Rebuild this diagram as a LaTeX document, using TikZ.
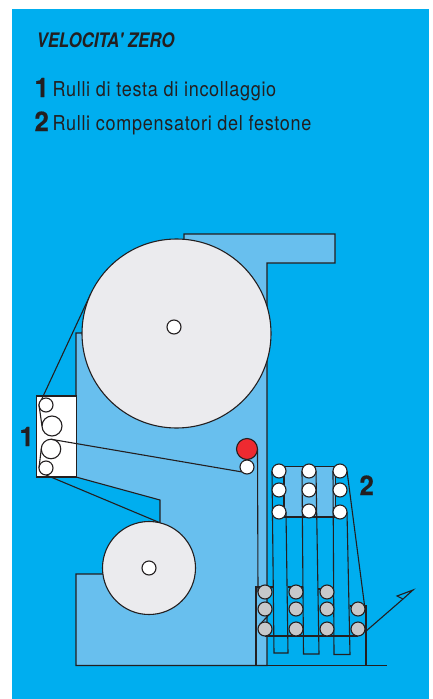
\documentclass[tikz,border=0pt]{standalone}
\usepackage{fontspec}
\usepackage{xcolor}
\usetikzlibrary{backgrounds}
\setmainfont[FakeStretch=0.88,LetterSpace=3.4]{TeX Gyre Heros}
\newfontfamily\headfont[FakeStretch=0.84]{TeX Gyre Heros}
\newfontfamily\numfont[FakeStretch=0.95,FakeBold=0.6]{TeX Gyre Heros}
\definecolor{skybg}{HTML}{00AEEF}
\definecolor{bodyblue}{HTML}{68BFEE}
\definecolor{drumgrey}{HTML}{EBEBEE}
\definecolor{rollgrey}{HTML}{C7C8CA}
\definecolor{rollred}{HTML}{EE2A30}
\definecolor{inkline}{HTML}{231F20}

\begin{document}
\begin{tikzpicture}[x=1pt, y=-1pt, line width=1.1pt, draw=inkline, text=inkline,
  roller/.style={circle, draw, fill=white, inner sep=0pt, outer sep=0pt, minimum size=#1},
  roller/.default=14pt,
  lowroller/.style={roller, fill=rollgrey},
  title/.style={anchor=base west, inner sep=0pt, font=\headfont\fontsize{20}{20}\selectfont\bfseries\itshape},
  caption/.style={anchor=base west, inner sep=0pt, font=\fontsize{20.5}{20}\selectfont},
  number/.style={anchor=base west, inner sep=0pt, font=\numfont\fontsize{27}{27}\selectfont\bfseries}]
\useasboundingbox (0,0) rectangle (433,699);
\node[title] (heading) at (36,47) {VELOCITA' ZERO};
\node[number] (numa) at (34,97) {1};
\node[caption] (capa) at (52,96) {Rulli di testa di incollaggio};
\node[number] (numb) at (34,131) {2};
\node[caption] (capb) at (52,130) {Rulli compensatori del festone};
\node[number] (labela) at (19,446) {1};
\node[number] (labelb) at (359,495) {2};
\node[roller=189pt, fill=drumgrey] (bigdrum) at (176.5,333.5) {};
\node[roller] (bighub) at (174,327) {};
\node[roller=93pt, fill=drumgrey] (lowdrum) at (149,568) {};
\node[roller] (lowhub) at (149,568) {};
\node[roller] (heada) at (46,405) {};
\node[roller=20pt, fill=none] (headb) at (52,426) {};
\node[roller=19.5pt, fill=none] (headc) at (51,449) {};
\node[roller] (headd) at (46,468) {};
\node[roller=21pt, fill=rollred] (redroll) at (247,449) {};
\node[roller] (guide) at (247,467) {};
\foreach \name/\px/\pya/\pyb/\pyc in {ua/279/471/490/512, ub/309/471/490/511, uc/340/471/490/512}{
  \node[roller] (\name a) at (\px,\pya) {};
  \node[roller] (\name b) at (\px,\pyb) {};
  \node[roller] (\name c) at (\px,\pyc) {};
}
\foreach \name/\px in {da/265, db/296, dc/327}{
  \node[lowroller] (\name a) at (\px,592) {};
  \node[lowroller] (\name b) at (\px,609) {};
  \node[lowroller] (\name c) at (\px,629) {};
}
\node[lowroller] (ddb) at (358,609) {};
\node[lowroller] (ddc) at (358,629) {};
\coordinate (basel) at (76,665.5);
\coordinate (baser) at (387,665.5);
\coordinate (loopa) at (274,653);
\coordinate (loopb) at (288,653);
\coordinate (loopc) at (303.5,654);
\coordinate (loopd) at (319,654);
\coordinate (loope) at (334,654.5);
\coordinate (loopf) at (350,654.5);
\coordinate (frameal) at (256,587);
\coordinate (framear) at (272.5,587);
\coordinate (frameae) at (256,665.5);
\coordinate (framebl) at (288,587);
\coordinate (framebr) at (303,587);
\coordinate (framecl) at (318,589);
\coordinate (framecr) at (334,589);
\coordinate (framedl) at (350,606);
\coordinate (framedr) at (366,606);
\coordinate (framede) at (366,665.5);
\coordinate (tipstart) at (365,632);
\coordinate (tipneck) at (403,599);
\coordinate (tipnose) at (413,590);
\coordinate (tipback) at (397,596);
\begin{scope}[on background layer={line width=1.1pt, draw=inkline}]
\fill[skybg] (12,9) rectangle (429,699);
\draw[fill=bodyblue] (184,239) -- (184,234) -- (335,234) -- (335,263) -- (267,263) -- (267,665.5) -- (76,665.5) -- (76,574) -- (149,574) -- (160,522) -- (160,500) -- (76,477) -- (76,333) -- (174,333) -- cycle;
\draw[fill=bodyblue] (uaa.north east) -- (uca.north west) -- (ucc.south west) -- (uac.south east) -- cycle;
\node[draw, fill=white, inner sep=0pt, outer sep=0pt, minimum width=39.5pt, minimum height=81pt] (headbox) at (56.5,436.5) {};
\draw (basel) -- (baser);
\draw (bigdrum.155) -- (heada.west) -- (headb.west);
\draw (headc.west) -- (headd.west);
\draw (headd.south) -- (lowdrum.76);
\draw (headc.north) -- (guide.south west);
\draw (redroll.east) -- (daa.west);
\draw (uaa.west) -- (loopa) -- (loopb) -- (uac.east);
\draw (uba.west) -- (loopc) -- (loopd) -- (uba.east);
\draw (uca.west) -- (loope) -- (loopf) -- (ucc.east);
\draw (uca.east) -- (ddb.east);
\draw (frameae) -- (frameal) -- (framear);
\draw (framebl) -- (framebr);
\draw (framecl) -- (framecr);
\draw (framedl) -- (framedr) -- (framede);
\draw (dac.south) -- (ddc.south);
\draw (dac.north west) -- (dab.south east);
\draw (tipstart) -- (tipneck) -- (tipnose) -- (tipback) -- (tipneck);
\end{scope}
\end{tikzpicture}
\end{document}
